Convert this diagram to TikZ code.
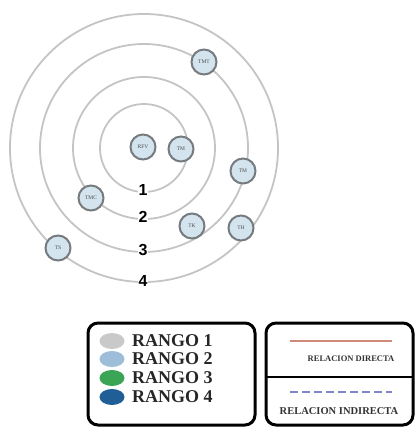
\documentclass[tikz,border=0pt]{standalone}
\usepackage{fontspec}
\setmainfont{Liberation Serif}
\newfontfamily\numfont{Liberation Sans}
\usetikzlibrary{shapes.geometric}
\definecolor{ringgray}{HTML}{C4C4C4}
\definecolor{nodefill}{HTML}{D4E4EE}
\definecolor{nodeedge}{HTML}{767B80}
\definecolor{rgone}{HTML}{C9C9C9}
\definecolor{rgtwo}{HTML}{9DBDD9}
\definecolor{rgthree}{HTML}{3AA655}
\definecolor{rgfour}{HTML}{1F5F96}
\definecolor{directline}{HTML}{D08A78}
\definecolor{indirectline}{HTML}{7F86CA}
\tikzset{
  ring/.style={draw=ringgray, line width=1.8pt},
  actor/.style={circle, draw=nodeedge, line width=2pt, fill=nodefill,
    minimum size=25pt, inner sep=0pt, font=\fontsize{5.5}{5.5}\selectfont, text=black!70},
  ringnum/.style={fill=white, inner sep=1pt, font=\numfont\bfseries\fontsize{16}{16}\selectfont},
  legendbox/.style={draw=black, line width=3pt, rounded corners=10pt},
  rangdot/.style={ellipse, minimum width=25pt, minimum height=16pt, inner sep=0pt},
  rangtext/.style={anchor=west, inner sep=0pt, font=\bfseries\fontsize{18}{18}\selectfont, text=black!85}
}
\begin{document}
\begin{tikzpicture}[x=1pt, y=-1pt]
\useasboundingbox (0,0) rectangle (418,434);
% concentric rings
\coordinate (ctr) at (144,148);
\draw[ring] (ctr) circle[radius=44];
\draw[ring] (ctr) circle[radius=71];
\draw[ring] (ctr) circle[radius=104];
\draw[ring] (ctr) circle[radius=134];
% ring numbers
\node[ringnum] (n1) at (143,190) {1};
\node[ringnum] (n2) at (143,217) {2};
\node[ringnum] (n3) at (143,250) {3};
\node[ringnum] (n4) at (143,281) {4};
% actors
\node[actor] (rfv) at (143,147) {RFV};
\node[actor] (tma) at (181,149) {TM};
\node[actor] (tmt) at (204,62) {TMT};
\node[actor] (tmb) at (243,171) {TM};
\node[actor] (tmc) at (91,198) {TMC};
\node[actor] (tk) at (192,226) {TK};
\node[actor] (th) at (241,228) {TH};
\node[actor] (ts) at (58,248) {TS};
% legend: ranges
\draw[legendbox] (88,323) rectangle (255,425);
\node[rangdot, fill=rgone] (d1) at (112,341) {};
\node[rangdot, fill=rgtwo] (d2) at (112,359) {};
\node[rangdot, fill=rgthree] (d3) at (112,378) {};
\node[rangdot, fill=rgfour] (d4) at (112,397) {};
\node[rangtext] (t1) at (132,341) {RANGO 1};
\node[rangtext] (t2) at (132,359) {RANGO 2};
\node[rangtext] (t3) at (132,378) {RANGO 3};
\node[rangtext] (t4) at (132,397) {RANGO 4};
% legend: relations
\draw[legendbox] (266,323) rectangle (413,425);
\draw[line width=2pt] (266,377) -- (413,377);
\coordinate (da) at (290,341);
\coordinate (db) at (392,341);
\draw[directline, line width=1.5pt] (da) -- (db);
\node[font=\bfseries\fontsize{8.5}{8.5}\selectfont, text=black!80] (rd) at (351,359) {RELACION DIRECTA};
\coordinate (ia) at (290,392);
\coordinate (ib) at (392,392);
\draw[indirectline, line width=1.5pt, dash pattern=on 8pt off 4pt] (ia) -- (ib);
\node[font=\bfseries\fontsize{10.5}{10.5}\selectfont, text=black!80] (ri) at (339,411) {RELACION INDIRECTA};
\end{tikzpicture}
\end{document}
